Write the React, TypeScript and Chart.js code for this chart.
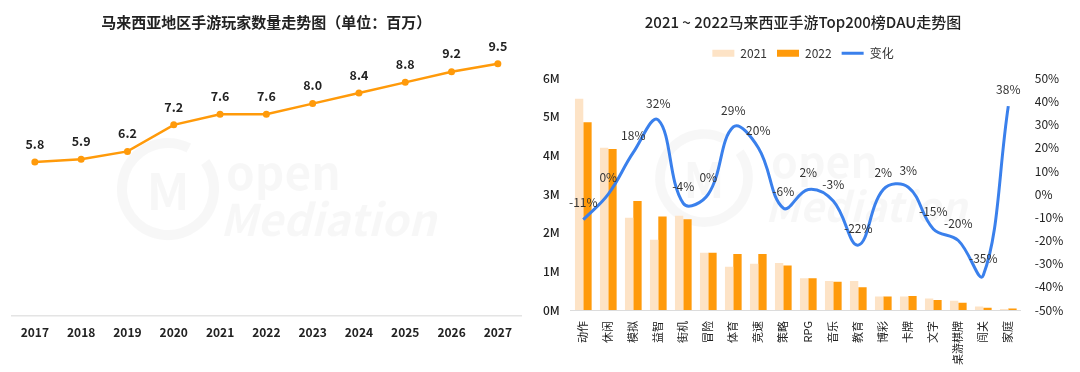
import React, { useEffect, useRef } from 'react';
import { Chart, registerables } from 'chart.js';

Chart.register(...registerables);

const FONT = '"Noto Sans CJK SC", "Noto Sans", sans-serif';
Chart.defaults.font.family = FONT;

const ORANGE = '#FF9A0A';
const PEACH = '#FDE3C6';
const BLUE = '#3A80EC';
const WATERMARK = 'rgba(0,0,0,0.032)';

// Left chart data
const years = ['2017', '2018', '2019', '2020', '2021', '2022', '2023', '2024', '2025', '2026', '2027'];
const players = [5.8, 5.9, 6.2, 7.2, 7.6, 7.6, 8.0, 8.4, 8.8, 9.2, 9.5];

// Right chart data
const genres = ['动作', '休闲', '模拟', '益智', '街机', '冒险', '体育', '竞速', '策略', 'RPG', '音乐', '教育', '博彩', '卡牌', '文字', '桌游棋牌', '闯关', '家庭'];
const dau2021 = [5.47, 4.2, 2.39, 1.82, 2.44, 1.48, 1.12, 1.2, 1.22, 0.82, 0.75, 0.75, 0.35, 0.35, 0.3, 0.24, 0.09, 0.029];
const dau2022 = [4.86, 4.17, 2.82, 2.42, 2.35, 1.48, 1.45, 1.45, 1.15, 0.82, 0.73, 0.59, 0.35, 0.36, 0.26, 0.19, 0.06, 0.04];
const change = [-11, 0, 18, 32, -4, 0, 29, 20, -6, 2, -3, -22, 2, 3, -15, -20, -35, 38];

const leftTicks = [0, 1, 2, 3, 4, 5, 6];

type LabelOpts = {
  datasetIndex: number;
  offset: number;
  font: string;
  color: string;
  format: (v: number) => string;
};

function makeLabelPlugin(id: string, o: LabelOpts) {
  return {
    id,
    afterDatasetsDraw(chart: any) {
      const meta = chart.getDatasetMeta(o.datasetIndex);
      const data = chart.data.datasets[o.datasetIndex].data as number[];
      const ctx = chart.ctx;
      ctx.save();
      ctx.font = o.font;
      ctx.fillStyle = o.color;
      ctx.textAlign = 'center';
      ctx.textBaseline = 'middle';
      meta.data.forEach((el: any, i: number) => {
        ctx.fillText(o.format(data[i]), el.x, el.y - o.offset);
      });
      ctx.restore();
    },
  };
}

type WM = { cx: number; cy: number; r: number; textX: number; openY: number; medY: number; size: number };

function makeWatermarkPlugin(id: string, w: WM) {
  return {
    id,
    beforeDatasetsDraw(chart: any) {
      const ctx = chart.ctx;
      ctx.save();
      ctx.strokeStyle = WATERMARK;
      ctx.fillStyle = WATERMARK;
      ctx.lineWidth = w.r * 0.22;
      ctx.beginPath();
      ctx.arc(w.cx, w.cy, w.r, -0.2 * Math.PI, 1.65 * Math.PI);
      ctx.stroke();
      ctx.font = `bold ${w.r * 1.1}px ${FONT}`;
      ctx.textAlign = 'center';
      ctx.textBaseline = 'middle';
      ctx.fillText('M', w.cx, w.cy + 2);
      ctx.textAlign = 'left';
      ctx.textBaseline = 'alphabetic';
      ctx.font = `bold ${w.size}px ${FONT}`;
      ctx.fillText('open', w.textX + 6, w.openY);
      ctx.font = `italic bold ${w.size * 0.95}px ${FONT}`;
      ctx.fillText('Mediation', w.textX, w.medY);
      ctx.restore();
    },
  };
}

function LeftChart() {
  const ref = useRef<HTMLCanvasElement>(null);
  useEffect(() => {
    if (!ref.current) return;
    const chart = new Chart(ref.current, {
      type: 'line',
      data: {
        labels: years,
        datasets: [
          {
            label: '玩家数量',
            data: players,
            borderColor: ORANGE,
            backgroundColor: ORANGE,
            borderWidth: 2.5,
            pointRadius: 3.5,
            pointBackgroundColor: ORANGE,
            pointBorderWidth: 0,
            tension: 0,
          },
        ],
      },
      options: {
        responsive: false,
        animation: false,
        layout: { padding: { left: 11.7, right: 9, top: 0, bottom: 0 } },
        plugins: {
          legend: { display: false },
          tooltip: { enabled: false },
          title: {
            display: true,
            text: '马来西亚地区手游玩家数量走势图（单位：百万）',
            color: '#222',
            font: { size: 15, weight: 'bold' },
            padding: { top: 13.5, bottom: 19 },
          },
        },
        scales: {
          x: {
            offset: true,
            grid: { display: false, drawTicks: false },
            border: { display: true, color: '#e4e4e4', width: 1.5 },
            ticks: { padding: 9, color: '#222', font: { size: 12, weight: 'bold' } },
            afterFit: (s: any) => {
              s.height = 56;
            },
          },
          y: { display: false, min: 0, max: 10 },
        },
      } as any,
      plugins: [
        makeWatermarkPlugin('leftWatermark', { cx: 168, cy: 189, r: 46, textX: 220, openY: 190, medY: 236, size: 46 }),
        makeLabelPlugin('leftLabels', {
          datasetIndex: 0,
          offset: 18,
          font: `bold 12.5px ${FONT}`,
          color: '#222',
          format: (v) => v.toFixed(1),
        }),
      ],
    });
    return () => chart.destroy();
  }, []);
  return <canvas ref={ref} width={530} height={372} style={{ position: 'absolute', left: 0, top: 0 }} />;
}

function RightChart() {
  const ref = useRef<HTMLCanvasElement>(null);
  useEffect(() => {
    if (!ref.current) return;
    const chart = new Chart(ref.current, {
      type: 'bar',
      data: {
        labels: genres,
        datasets: [
          {
            type: 'bar',
            label: '2021',
            data: dau2021,
            backgroundColor: PEACH,
            yAxisID: 'y',
            order: 1,
            barPercentage: 1,
            categoryPercentage: 0.667,
            pointStyle: 'rect',
          },
          {
            type: 'bar',
            label: '2022',
            data: dau2022,
            backgroundColor: ORANGE,
            yAxisID: 'y',
            order: 1,
            barPercentage: 1,
            categoryPercentage: 0.667,
            pointStyle: 'rect',
          },
          {
            type: 'line',
            label: '变化',
            data: change,
            borderColor: BLUE,
            backgroundColor: BLUE,
            borderWidth: 3,
            pointRadius: 0,
            pointBorderWidth: 3,
            pointStyle: 'line',
            tension: 0.4,
            fill: false,
            yAxisID: 'y1',
            order: 0,
          },
        ],
      } as any,
      options: {
        responsive: false,
        animation: false,
        layout: { padding: 0 },
        plugins: {
          tooltip: { enabled: false },
          title: {
            display: true,
            text: '2021 ~ 2022马来西亚手游Top200榜DAU走势图',
            color: '#222',
            font: { size: 15, weight: 500 },
            padding: { top: 13.5, bottom: 5.8 },
          },
          subtitle: {
            display: true,
            text: '',
            weight: 500,
            font: { size: 9, lineHeight: 1 },
            padding: 0,
          },
          legend: {
            display: true,
            position: 'top',
            labels: {
              sort: (a: any, b: any) => a.datasetIndex - b.datasetIndex,
              usePointStyle: true,
              pointStyleWidth: 22,
              boxHeight: 7,
              padding: 10,
              color: '#333',
              font: { size: 12 },
            },
          },
        },
        scales: {
          x: {
            grid: { display: false, drawTicks: false },
            border: { display: true, color: '#dcdcdc', width: 1 },
            ticks: {
              autoSkip: false,
              minRotation: 90,
              maxRotation: 90,
              padding: 11,
              color: '#222',
              font: { size: 11 },
            },
            afterFit: (s: any) => {
              s.height = 62;
            },
          },
          y: {
            position: 'left',
            min: 0,
            max: 6,
            afterBuildTicks: (s: any) => {
              s.ticks = leftTicks.map((v) => ({ value: v }));
            },
            ticks: {
              padding: 11,
              color: '#222',
              font: { size: 12, weight: 500 },
              callback: (v: any) => `${v}M`,
            },
            grid: { display: false, drawTicks: false },
            border: { display: false },
            afterFit: (s: any) => {
              s.width = 40.8;
            },
          },
          y1: {
            position: 'right',
            min: -50,
            max: 50,
            ticks: {
              stepSize: 10,
              padding: 14,
              color: '#222',
              font: { size: 12 },
              callback: (v: any) => `${v}%`,
            },
            grid: { display: false, drawTicks: false },
            border: { display: false },
            afterFit: (s: any) => {
              s.width = 55.2;
            },
          },
        },
      } as any,
      plugins: [
        makeWatermarkPlugin('rightWatermark', { cx: 174, cy: 178, r: 44, textX: 235, openY: 178, medY: 222, size: 43 }),
        makeLabelPlugin('rightLabels', {
          datasetIndex: 2,
          offset: 17,
          font: `12px ${FONT}`,
          color: '#333',
          format: (v) => `${v}%`,
        }),
      ],
    });
    return () => chart.destroy();
  }, []);
  return <canvas ref={ref} width={546} height={372} style={{ position: 'absolute', left: 530, top: 0 }} />;
}

export default function App() {
  return (
    <div style={{ position: 'absolute', left: 0, top: 0, width: 1080, height: 372, background: '#fff', overflow: 'hidden' }}>
      <LeftChart />
      <RightChart />
    </div>
  );
}
